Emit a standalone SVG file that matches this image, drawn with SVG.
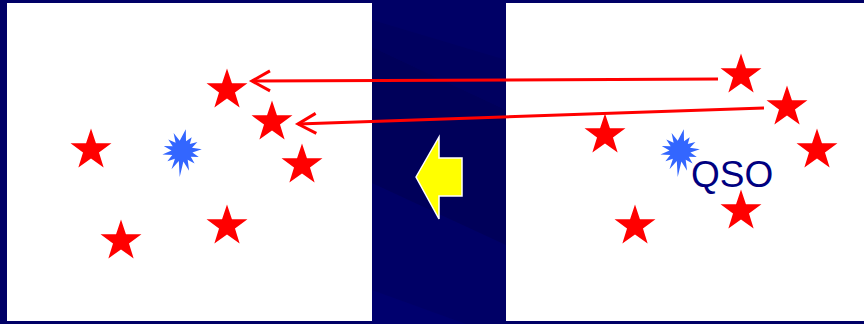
<svg xmlns="http://www.w3.org/2000/svg" width="864" height="324" viewBox="0 0 864 324">
<style>
.panel{fill:#ffffff}
.star{fill:#ff0000}
.burst{fill:#3366ff}
.conn{stroke:#ff0000;stroke-width:3;fill:none}
.label{font-family:"Liberation Sans",Arial,sans-serif;font-size:37px;fill:#000080}
</style>
<defs>
<path id="star" d="M0,-21.5 L4.93,-6.79 L20.45,-6.64 L7.98,2.59 L12.64,17.39 L0,8.4 L-12.64,17.39 L-7.98,2.59 L-20.45,-6.64 L-4.93,-6.79 Z"/>
<polygon id="burst" points="3.8,-21.7 4.0,-9.7 9.7,-13.8 7.8,-7.1 15.4,-8.9 10.0,-3.2 19.8,-1.8 10.4,1.4 16.8,6.1 8.8,5.7 12.6,12.6 5.7,8.8 7.1,19.7 1.4,10.4 -2.3,26.1 -3.2,10.0 -10.5,18.2 -7.1,7.8 -14.6,10.3 -9.7,4.0 -19.6,3.5 -10.5,-0.4 -18.3,-4.9 -9.3,-4.8 -13.7,-11.4 -6.4,-8.3 -8.4,-18.1 -2.3,-10.3"/>
<marker id="chev" markerUnits="userSpaceOnUse" markerWidth="24" markerHeight="24" viewBox="-22 -12 24 24" refX="0" refY="0" orient="auto" overflow="visible">
<polyline points="-18,-10 0,0 -18,10" fill="none" stroke="#ff0000" stroke-width="3"/>
</marker>
</defs>
<rect x="0" y="0" width="864" height="324" fill="#000066"/>
<g id="strip">
<polygon points="372,47 506,110 506,245 372,183" fill="#00005a"/>
<polygon points="372,20 506,60 506,110 372,47" fill="#000060"/>
<polygon points="372,290 466,324 372,324" fill="#00006e"/>
</g>
<g id="left-panel"><rect class="panel" x="7" y="3" width="365" height="318"/></g>
<g id="right-panel"><rect class="panel" x="506" y="3" width="358" height="318"/></g>
<g id="left-field">
<use href="#star" class="star" x="227" y="90"/>
<use href="#star" class="star" x="272" y="122"/>
<use href="#star" class="star" x="302" y="165"/>
<use href="#star" class="star" x="91" y="150"/>
<use href="#star" class="star" x="121" y="241"/>
<use href="#star" class="star" x="227" y="226"/>
<use href="#burst" class="burst" x="182" y="151"/>
</g>
<g id="right-field">
<use href="#star" class="star" x="741" y="75"/>
<use href="#star" class="star" x="787" y="107"/>
<use href="#star" class="star" x="605" y="135"/>
<use href="#star" class="star" x="817" y="150"/>
<use href="#star" class="star" x="635" y="226"/>
<use href="#star" class="star" x="741" y="211"/>
<use href="#burst" class="burst" x="680" y="151"/>
<text class="label" x="691" y="187">QSO</text>
</g>
<g id="shift-arrow">
<polygon points="416,177 439,137 439,158 462,158 462,196 439,196 439,219" fill="#ffff00" stroke="#ffffff" stroke-width="1.5" stroke-linejoin="miter"/>
</g>
<g id="connectors">
<line class="conn" x1="718" y1="79" x2="252" y2="81" marker-end="url(#chev)"/>
<line class="conn" x1="764" y1="108" x2="298" y2="124" marker-end="url(#chev)"/>
</g>
</svg>
